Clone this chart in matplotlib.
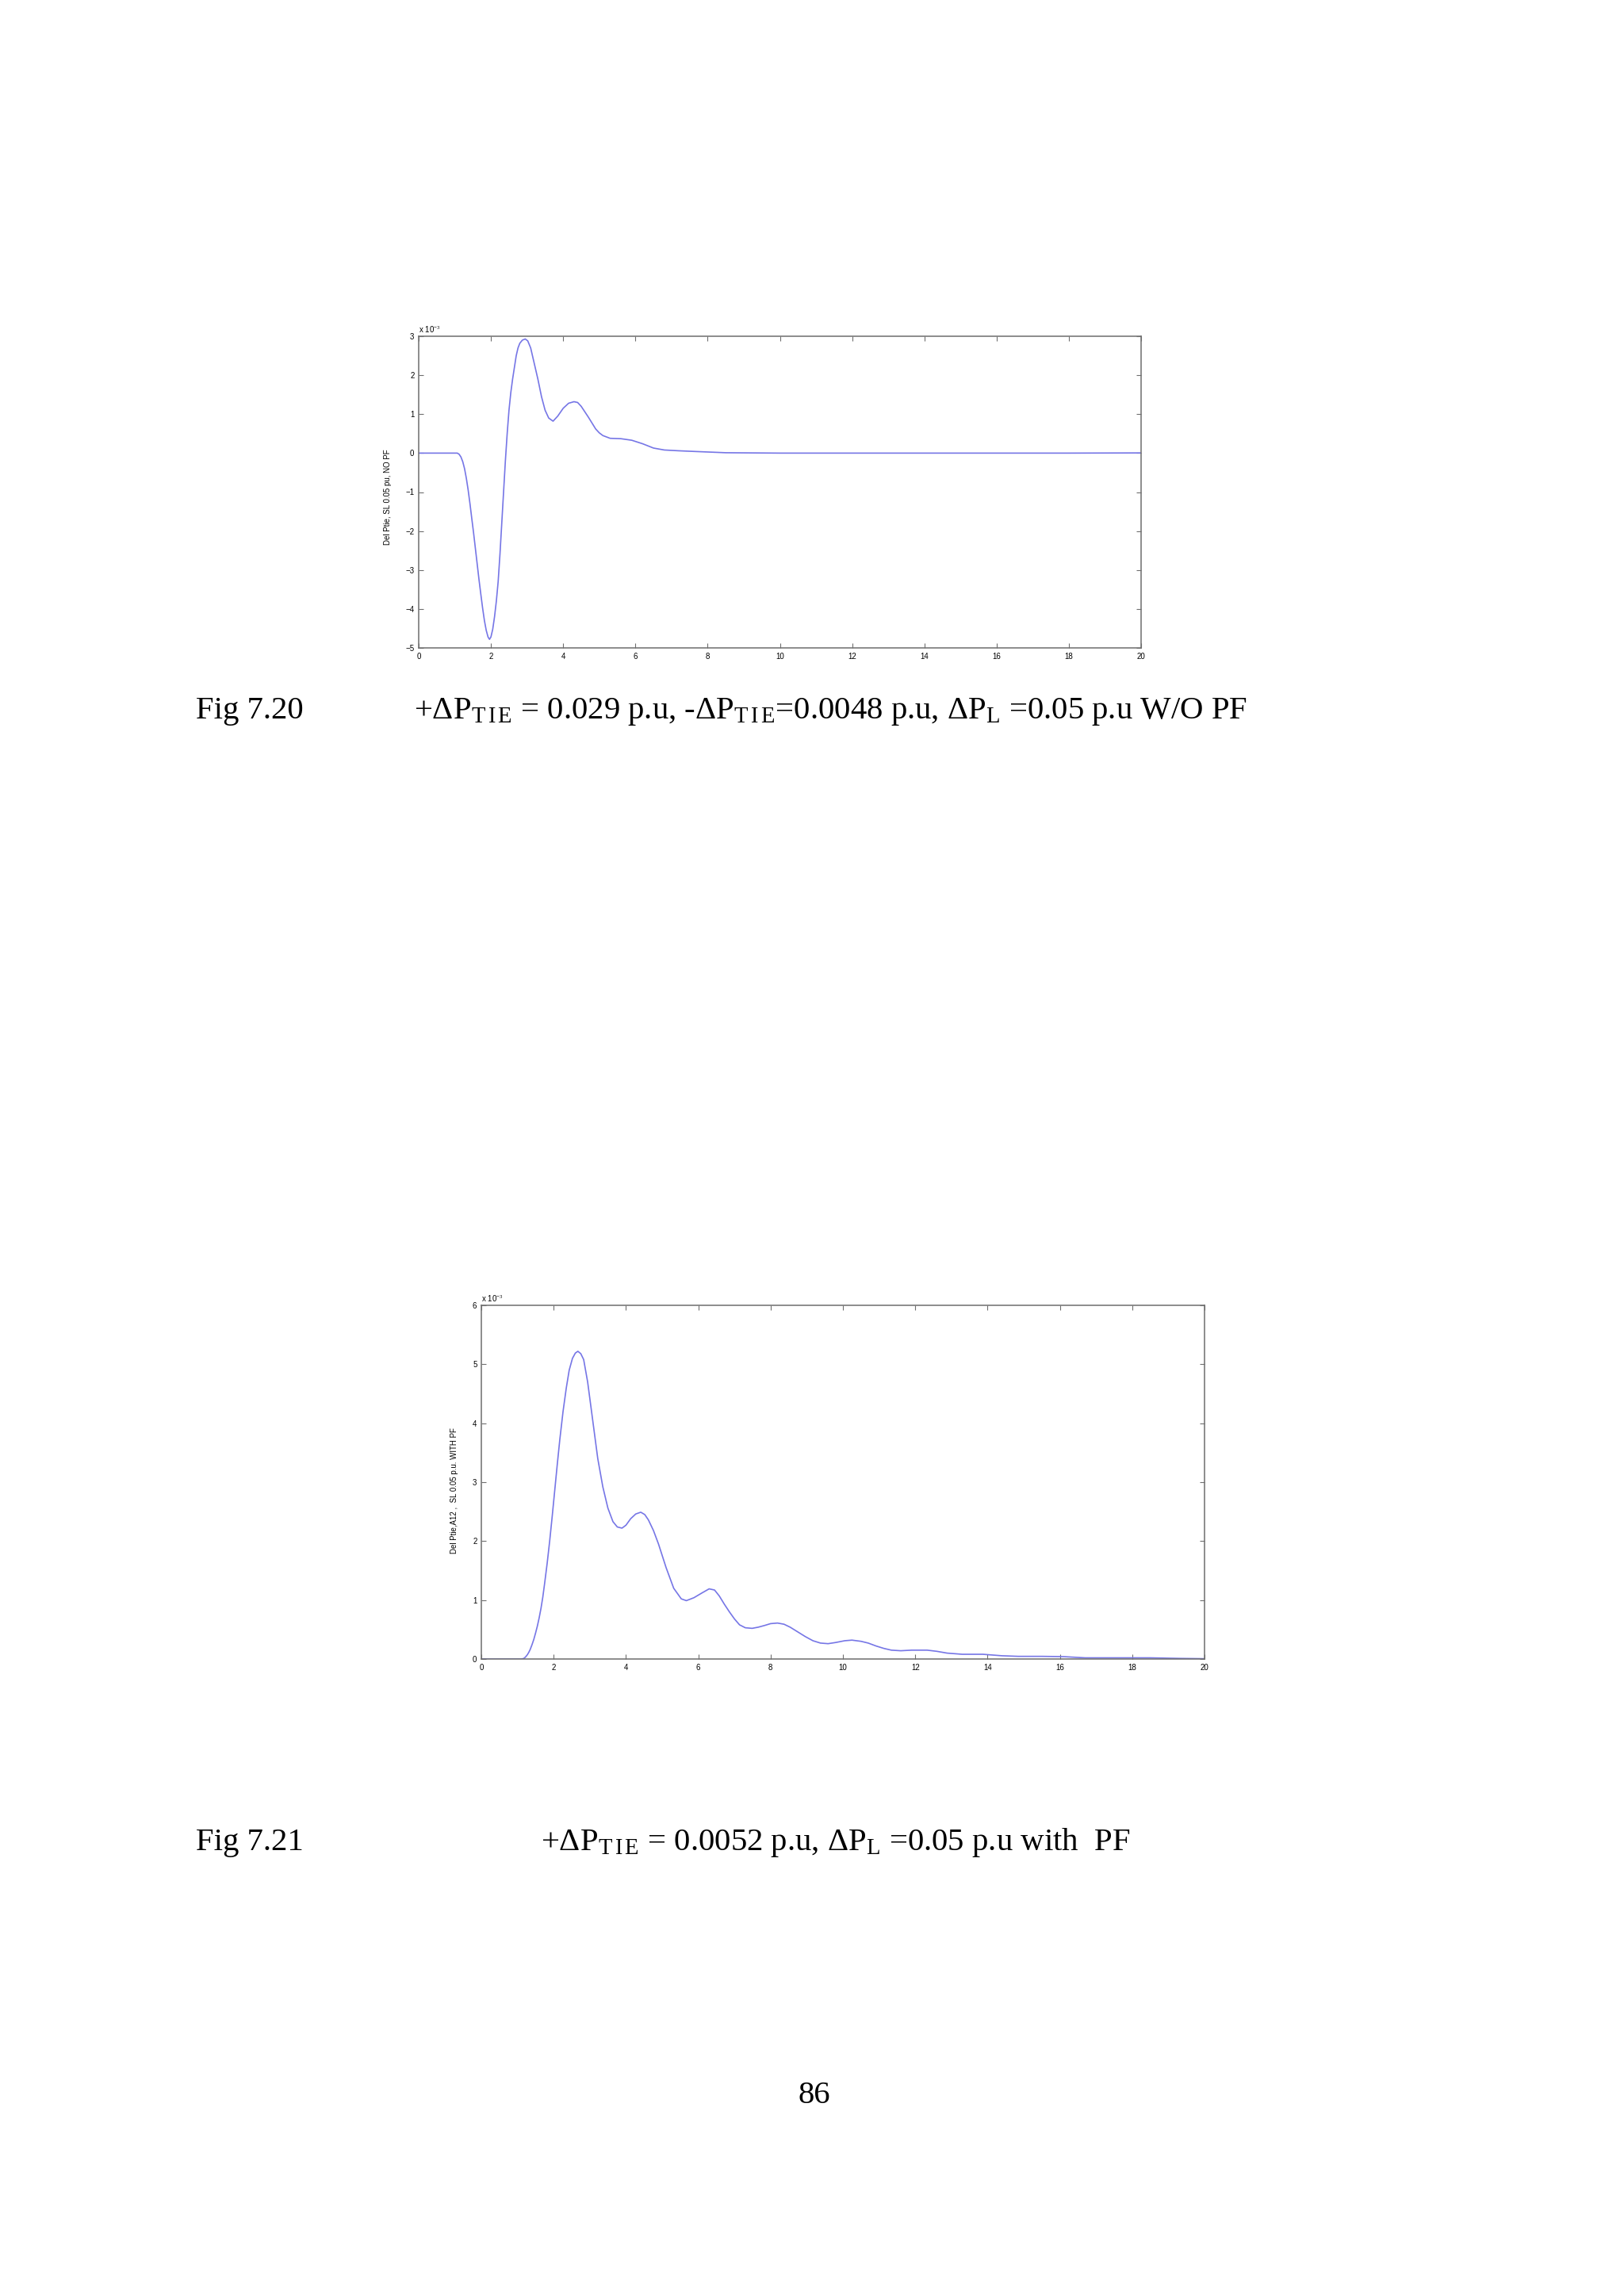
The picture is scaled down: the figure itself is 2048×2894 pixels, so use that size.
import matplotlib
matplotlib.use("Agg")
import matplotlib.pyplot as plt

W, H = 2048, 2894
DPI = 200

plt.rcParams['mathtext.fontset'] = 'custom'
plt.rcParams['mathtext.rm'] = 'Liberation Serif'
plt.rcParams['mathtext.it'] = 'Liberation Serif:italic'

# Fig 7.20 : tie-line power deviation, no PF (values in units of 1e-3 p.u.)
t_nopf = [0, 0.5, 1.0, 1.07, 1.12, 1.17, 1.22, 1.27, 1.32, 1.37, 1.42, 1.47, 1.52,
          1.57, 1.62, 1.67, 1.72, 1.77, 1.82, 1.87, 1.92, 1.96, 2.0, 2.05, 2.1,
          2.15, 2.2, 2.25, 2.3, 2.35, 2.4, 2.45, 2.5, 2.55, 2.6, 2.65, 2.7, 2.75,
          2.8, 2.87, 2.95, 3.02, 3.1, 3.2, 3.3, 3.4, 3.5, 3.6, 3.72, 3.85, 4.0,
          4.15, 4.3, 4.4, 4.5, 4.6, 4.7, 4.8, 4.9, 5.0, 5.1, 5.3, 5.6, 5.9, 6.2,
          6.5, 6.8, 7.2, 7.7, 8.5, 10.0, 14.0, 18.0, 20.0]
dp_nopf = [0, 0, 0, 0, -0.03, -0.1, -0.22, -0.4, -0.65, -0.95, -1.3, -1.68, -2.05,
           -2.45, -2.85, -3.25, -3.62, -3.98, -4.3, -4.55, -4.72, -4.78, -4.72,
           -4.52, -4.2, -3.8, -3.3, -2.6, -1.8, -1.0, -0.2, 0.5, 1.1, 1.55, 1.9,
           2.2, 2.5, 2.7, 2.82, 2.9, 2.93, 2.88, 2.7, 2.3, 1.9, 1.45, 1.1, 0.9,
           0.82, 0.95, 1.15, 1.28, 1.32, 1.3, 1.2, 1.06, 0.92, 0.77, 0.62, 0.52,
           0.45, 0.38, 0.37, 0.33, 0.24, 0.13, 0.08, 0.06, 0.04, 0.01, 0.0, 0.0,
           0.0, 0.005]

# Fig 7.21 : tie-line power deviation, with PF (values in units of 1e-3 p.u.)
t_pf = [0, 0.5, 1.0, 1.1, 1.15, 1.19, 1.23, 1.27, 1.31, 1.35, 1.4, 1.45, 1.5,
        1.55, 1.6, 1.65, 1.7, 1.75, 1.82, 1.89, 1.96, 2.03, 2.1, 2.17, 2.26,
        2.35, 2.43, 2.52, 2.6, 2.67, 2.75, 2.83, 2.94, 3.08, 3.22, 3.36, 3.5,
        3.64, 3.76, 3.89, 4.0, 4.13, 4.27, 4.41, 4.52, 4.62, 4.76, 4.9, 5.11,
        5.32, 5.53, 5.67, 5.88, 6.1, 6.3, 6.45, 6.58, 6.72, 6.86, 7.0, 7.14,
        7.3, 7.49, 7.66, 7.84, 8.0, 8.19, 8.37, 8.54, 8.75, 8.96, 9.17, 9.38,
        9.59, 9.8, 10.05, 10.25, 10.5, 10.7, 10.92, 11.13, 11.34, 11.6, 11.9,
        12.33, 12.6, 12.88, 13.3, 13.87, 14.4, 14.85, 15.5, 16.1, 16.7, 17.5,
        18.5, 19.3, 20.0]
dp_pf = [0, 0, 0, 0.0, 0.005, 0.015, 0.04, 0.07, 0.11, 0.16, 0.24, 0.33, 0.44,
         0.56, 0.7, 0.86, 1.05, 1.28, 1.62, 2.0, 2.42, 2.86, 3.3, 3.72, 4.2,
         4.6, 4.9, 5.1, 5.19, 5.22, 5.18, 5.08, 4.7, 4.05, 3.4, 2.92, 2.56,
         2.33, 2.24, 2.22, 2.27, 2.38, 2.46, 2.49, 2.45, 2.36, 2.18, 1.95, 1.55,
         1.2, 1.02, 0.99, 1.04, 1.12, 1.19, 1.17, 1.07, 0.93, 0.8, 0.68, 0.58,
         0.53, 0.52, 0.54, 0.57, 0.6, 0.61, 0.59, 0.54, 0.46, 0.38, 0.31, 0.27,
         0.26, 0.28, 0.31, 0.32, 0.3, 0.27, 0.22, 0.18, 0.15, 0.14, 0.15, 0.15,
         0.13, 0.1, 0.08, 0.08, 0.055, 0.045, 0.045, 0.04, 0.02, 0.02, 0.02,
         0.01, 0.005]

xticks = list(range(0, 21, 2))
yticks_nopf = list(range(-5, 4))
yticks_pf = list(range(0, 7))

LINE_COLOR = '#7676e6'
SPINE_COLOR = '#6e6e6e'
TICK_FONT = 3.5
CAP_FONT = 14.7


def fig_xy(x, y):
    return x / W, 1 - y / H


def add_axes(left, top, right, bottom):
    return fig.add_axes([left / W, 1 - bottom / H, (right - left) / W, (bottom - top) / H])


def style_axes(ax, yticks):
    ax.set_xlim(0, 20)
    ax.set_ylim(yticks[0], yticks[-1])
    ax.set_xticks(xticks)
    ax.set_yticks(yticks)
    ax.tick_params(direction='in', length=2.0, width=0.4, colors=SPINE_COLOR,
                   labelcolor='black', labelsize=TICK_FONT, pad=2,
                   top=True, right=True)
    for lab in ax.get_xticklabels() + ax.get_yticklabels():
        lab.set_fontfamily('Liberation Sans')
    for s in ax.spines.values():
        s.set_color(SPINE_COLOR)
        s.set_linewidth(0.55)


fig = plt.figure(figsize=(W / DPI, H / DPI), dpi=DPI)

# ---- Fig 7.20 ----
ax1 = add_axes(528, 424, 1439, 817)
ax1.plot(t_nopf, dp_nopf, color=LINE_COLOR, lw=0.6)
style_axes(ax1, yticks_nopf)
fig.text(*fig_xy(489, 627), 'Del Ptie, SL 0.05 pu, NO PF', rotation=90,
         ha='center', va='center', fontsize=TICK_FONT, family='Liberation Sans')
fig.text(*fig_xy(528, 420), r'x 10$^{-3}$', ha='left', va='baseline',
         fontsize=TICK_FONT, family='Liberation Sans')

# ---- Fig 7.21 ----
ax2 = add_axes(607, 1646, 1519, 2092)
ax2.plot(t_pf, dp_pf, color=LINE_COLOR, lw=0.6)
style_axes(ax2, yticks_pf)
fig.text(*fig_xy(573, 1880), 'Del Ptie,A12 ,  SL 0.05 p.u. WITH PF', rotation=90,
         ha='center', va='center', fontsize=TICK_FONT, family='Liberation Sans')
fig.text(*fig_xy(607, 1642), r'x 10$^{-3}$', ha='left', va='baseline',
         fontsize=TICK_FONT, family='Liberation Sans')

# ---- captions ----
serif = 'Liberation Serif'
fig.text(*fig_xy(247, 906), 'Fig 7.20', ha='left', va='baseline',
         fontsize=CAP_FONT, family=serif)
fig.text(*fig_xy(522, 906),
         r'+ΔP$_{\mathrm{T\,I\,E}}$ = 0.029 p.u, -ΔP$_{\mathrm{T\,I\,E}}$=0.0048 p.u, '
         r'ΔP$_{\mathrm{L}}$ =0.05 p.u W/O PF',
         ha='left', va='baseline', fontsize=CAP_FONT, family=serif)

fig.text(*fig_xy(247, 2333), 'Fig 7.21', ha='left', va='baseline',
         fontsize=CAP_FONT, family=serif)
fig.text(*fig_xy(682, 2333),
         r'+ΔP$_{\mathrm{T\,I\,E}}$ = 0.0052 p.u, ΔP$_{\mathrm{L}}$ =0.05 p.u with  PF',
         ha='left', va='baseline', fontsize=CAP_FONT, family=serif)

fig.text(*fig_xy(1027, 2652), '86', ha='center', va='baseline',
         fontsize=CAP_FONT, family=serif)

fig.savefig('out.png', dpi=DPI, facecolor='white')
